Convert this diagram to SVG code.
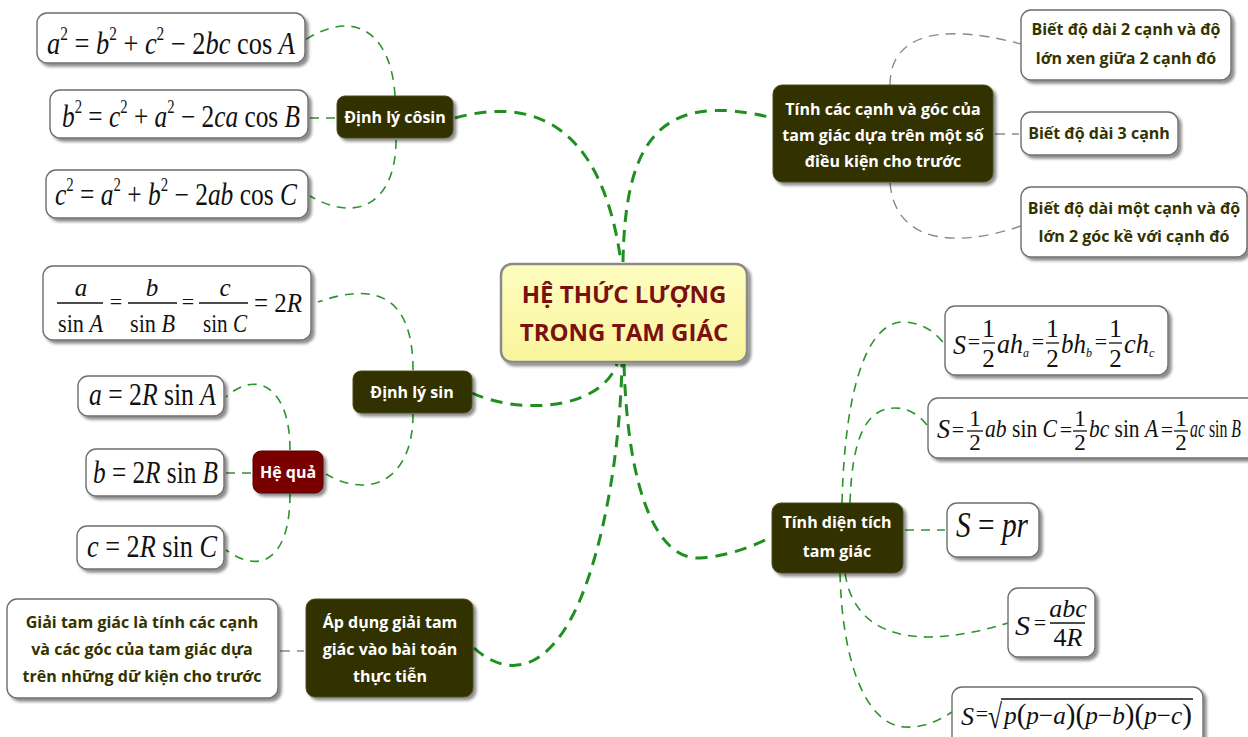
<svg xmlns="http://www.w3.org/2000/svg" width="1248" height="737" viewBox="0 0 1248 737">
<defs>
<filter id="sh" x="-10%" y="-10%" width="125%" height="140%">
<feDropShadow dx="3" dy="3" stdDeviation="1.8" flood-color="#000" flood-opacity="0.45"/>
</filter>
<linearGradient id="yg" x1="0" y1="0" x2="0" y2="1">
<stop offset="0" stop-color="#fefdc0"/>
<stop offset="1" stop-color="#f9f59c"/>
</linearGradient>
<style>
.box{fill:#fff;stroke:#6e6e6e;stroke-width:1.4;filter:url(#sh)}
.dark{fill:#333300;stroke:#4a4a20;stroke-width:1;filter:url(#sh)}
.red{fill:#7a0000;stroke:#5a0000;stroke-width:1;filter:url(#sh)}
.ctr{fill:url(#yg);stroke:#8a8a8a;stroke-width:2.5;filter:url(#sh)}
.nt{font-family:"Open Sans","Noto Sans","DejaVu Sans",sans-serif;font-weight:700;font-size:16px;fill:#fff;text-anchor:middle}
.bt{font-family:"Open Sans","Noto Sans","DejaVu Sans",sans-serif;font-weight:700;font-size:16px;fill:#333300;text-anchor:middle}
.ct{font-family:"Open Sans","Noto Sans","DejaVu Sans",sans-serif;font-weight:700;font-size:24px;fill:#7a1010;text-anchor:middle}
.f{font-family:"Liberation Serif","Times New Roman",serif;fill:#111}
.i{font-style:italic}
.m{text-anchor:middle}
.eq{font-family:"Liberation Serif","Times New Roman",serif;fill:#111;font-size:22px;text-anchor:middle}
.bar{stroke:#111;stroke-width:1.3}
.main{fill:none;stroke:#1f8f1f;stroke-width:3;stroke-dasharray:12 8}
.sub{fill:none;stroke:#2a962a;stroke-width:1.6;stroke-dasharray:9 7}
.gray{fill:none;stroke:#8a8a8a;stroke-width:1.4;stroke-dasharray:10 7}
</style>
</defs>

<g id="connectors">
<path class="main" d="M455,118 C520,100 600,110 621,262"/>
<path class="main" d="M623,262 C625,140 660,90 773,118"/>
<path class="main" d="M472,393 C520,415 600,410 617,364"/>
<path class="main" d="M474,648 C510,680 550,670 580,600 C605,540 620,450 622,364"/>
<path class="main" d="M624,364 C628,500 660,560 700,558 C730,556 755,545 772,537"/>
<path class="sub" d="M395,96 C392,40 360,5 305,40"/>
<path class="sub" d="M310,118 L337,118"/>
<path class="sub" d="M396,140 C396,200 360,225 310,196"/>
<path class="sub" d="M413,370 C413,300 380,280 318,302"/>
<path class="sub" d="M413,414 C413,480 370,500 326,474"/>
<path class="sub" d="M290,450 C290,385 255,370 226,397"/>
<path class="sub" d="M226,473 L252,473"/>
<path class="sub" d="M290,494 C290,560 260,575 226,550"/>
<path class="gray" d="M280,651 L304,651"/>
<path class="gray" d="M890,85 C890,40 930,20 1021,44"/>
<path class="gray" d="M995,134 L1019,134"/>
<path class="gray" d="M890,183 C895,240 950,250 1021,226"/>
<path class="sub" d="M842,503 C845,380 870,320 905,322 C925,323 938,335 945,345"/>
<path class="sub" d="M850,503 C852,440 865,408 895,408 C912,408 925,420 930,430"/>
<path class="sub" d="M905,530 L945,530"/>
<path class="sub" d="M845,573 C855,640 920,650 1008,623"/>
<path class="sub" d="M840,573 C842,660 865,725 905,727 C925,728 940,720 952,712"/>
</g>

<g id="center">
<rect class="ctr" x="501" y="264" width="246" height="98" rx="11"/>
<text class="ct" x="624" y="303">HỆ THỨC LƯỢNG</text>
<text class="ct" x="624" y="341">TRONG TAM GIÁC</text>
</g>

<g id="dinh-ly-cosin">
<rect class="dark" x="337" y="96" width="116" height="42" rx="8"/>
<text class="nt" x="395" y="123">Định lý côsin</text>
</g>

<g id="cos-a">
<rect class="box" x="37" y="13" width="268" height="50" rx="10"/>
<text class="f" font-size="31" x="47" y="54" textLength="248" lengthAdjust="spacingAndGlyphs"><tspan class="i">a</tspan><tspan font-size="18" dy="-14">2</tspan><tspan dy="14"> = </tspan><tspan class="i">b</tspan><tspan font-size="18" dy="-14">2</tspan><tspan dy="14"> + </tspan><tspan class="i">c</tspan><tspan font-size="18" dy="-14">2</tspan><tspan dy="14"> − 2</tspan><tspan class="i">bc</tspan><tspan> cos </tspan><tspan class="i">A</tspan></text>
</g>

<g id="cos-b">
<rect class="box" x="50" y="90" width="258" height="48" rx="10"/>
<text class="f" font-size="31" x="62" y="127" textLength="238" lengthAdjust="spacingAndGlyphs"><tspan class="i">b</tspan><tspan font-size="18" dy="-14">2</tspan><tspan dy="14"> = </tspan><tspan class="i">c</tspan><tspan font-size="18" dy="-14">2</tspan><tspan dy="14"> + </tspan><tspan class="i">a</tspan><tspan font-size="18" dy="-14">2</tspan><tspan dy="14"> − 2</tspan><tspan class="i">ca</tspan><tspan> cos </tspan><tspan class="i">B</tspan></text>
</g>

<g id="cos-c">
<rect class="box" x="46" y="170" width="262" height="48" rx="10"/>
<text class="f" font-size="31" x="55" y="205" textLength="242" lengthAdjust="spacingAndGlyphs"><tspan class="i">c</tspan><tspan font-size="18" dy="-14">2</tspan><tspan dy="14"> = </tspan><tspan class="i">a</tspan><tspan font-size="18" dy="-14">2</tspan><tspan dy="14"> + </tspan><tspan class="i">b</tspan><tspan font-size="18" dy="-14">2</tspan><tspan dy="14"> − 2</tspan><tspan class="i">ab</tspan><tspan> cos </tspan><tspan class="i">C</tspan></text>
</g>

<g id="dinh-ly-sin">
<rect class="dark" x="353" y="371" width="119" height="42" rx="8"/>
<text class="nt" x="412" y="398">Định lý sin</text>
</g>

<g id="sin-ratio">
<rect class="box" x="43" y="266" width="268" height="74" rx="10"/>
<text class="f i m" font-size="25" x="81" y="296">a</text>
<line class="bar" x1="57" y1="303" x2="103" y2="303"/>
<text class="f" font-size="25" x="58" y="332" textLength="45" lengthAdjust="spacingAndGlyphs">sin <tspan class="i">A</tspan></text>
<text class="eq" font-size="24" x="116" y="309">=</text>
<text class="f i m" font-size="25" x="152" y="296">b</text>
<line class="bar" x1="128" y1="303" x2="177" y2="303"/>
<text class="f" font-size="25" x="130" y="332" textLength="45" lengthAdjust="spacingAndGlyphs">sin <tspan class="i">B</tspan></text>
<text class="eq" font-size="24" x="188" y="309">=</text>
<text class="f i m" font-size="25" x="225" y="296">c</text>
<line class="bar" x1="199" y1="303" x2="248" y2="303"/>
<text class="f" font-size="25" x="203" y="332" textLength="44" lengthAdjust="spacingAndGlyphs">sin <tspan class="i">C</tspan></text>
<text class="f" font-size="27" x="254" y="312" textLength="48" lengthAdjust="spacingAndGlyphs">= 2<tspan class="i">R</tspan></text>
</g>

<g id="he-qua">
<rect class="red" x="253" y="451" width="70" height="42" rx="8"/>
<text class="nt" x="288" y="478">Hệ quả</text>
</g>

<g id="sin-a">
<rect class="box" x="78" y="376" width="146" height="40" rx="10"/>
<text class="f" font-size="32" x="89" y="405" textLength="127" lengthAdjust="spacingAndGlyphs"><tspan class="i">a</tspan> = 2<tspan class="i">R</tspan> sin <tspan class="i">A</tspan></text>
</g>

<g id="sin-b">
<rect class="box" x="86" y="449" width="138" height="47" rx="10"/>
<text class="f" font-size="32" x="93" y="483" textLength="125" lengthAdjust="spacingAndGlyphs"><tspan class="i">b</tspan> = 2<tspan class="i">R</tspan> sin <tspan class="i">B</tspan></text>
</g>

<g id="sin-c">
<rect class="box" x="77" y="526" width="147" height="43" rx="10"/>
<text class="f" font-size="32" x="87" y="557" textLength="130" lengthAdjust="spacingAndGlyphs"><tspan class="i">c</tspan> = 2<tspan class="i">R</tspan> sin <tspan class="i">C</tspan></text>
</g>

<g id="ap-dung">
<rect class="dark" x="306" y="599" width="167" height="98" rx="9"/>
<text class="nt" x="390" y="628">Áp dụng giải tam</text>
<text class="nt" x="390" y="655">giác vào bài toán</text>
<text class="nt" x="390" y="682">thực tiễn</text>
</g>

<g id="giai-tam-giac">
<rect class="box" x="7" y="599" width="271" height="99" rx="10"/>
<text class="bt" x="142" y="628">Giải tam giác là tính các cạnh</text>
<text class="bt" x="142" y="655">và các góc của tam giác dựa</text>
<text class="bt" x="142" y="682">trên những dữ kiện cho trước</text>
</g>

<g id="tinh-canh-goc">
<rect class="dark" x="773" y="85" width="220" height="97" rx="9"/>
<text class="nt" x="883" y="115">Tính các cạnh và góc của</text>
<text class="nt" x="883" y="141">tam giác dựa trên một số</text>
<text class="nt" x="883" y="167">điều kiện cho trước</text>
</g>

<g id="biet-2-canh">
<rect class="box" x="1021" y="10" width="210" height="70" rx="10"/>
<text class="bt" x="1126" y="35">Biết độ dài 2 cạnh và độ</text>
<text class="bt" x="1126" y="64">lớn xen giữa 2 cạnh đó</text>
</g>

<g id="biet-3-canh">
<rect class="box" x="1021" y="112" width="157" height="43" rx="10"/>
<text class="bt" x="1099" y="139">Biết độ dài 3 cạnh</text>
</g>

<g id="biet-1-canh">
<rect class="box" x="1021" y="187" width="226" height="70" rx="10"/>
<text class="bt" x="1134" y="214">Biết độ dài một cạnh và độ</text>
<text class="bt" x="1134" y="242">lớn 2 góc kề với cạnh đó</text>
</g>

<g id="tinh-dien-tich">
<rect class="dark" x="772" y="503" width="131" height="70" rx="9"/>
<text class="nt" x="837" y="528">Tính diện tích</text>
<text class="nt" x="837" y="557">tam giác</text>
</g>

<g id="s-height">
<rect class="box" x="945" y="306" width="223" height="69" rx="10"/>
<text class="f i" font-size="28" x="953" y="354" textLength="13" lengthAdjust="spacingAndGlyphs">S</text>
<text class="eq" x="974" y="349">=</text>
<text class="f m" font-size="25" x="988.5" y="337">1</text>
<line class="bar" x1="982" y1="343" x2="995" y2="343"/>
<text class="f m" font-size="25" x="988.5" y="367">2</text>
<text class="f i" font-size="27" x="997" y="353" textLength="26" lengthAdjust="spacingAndGlyphs">ah</text>
<text class="f i" font-size="12" x="1023" y="357">a</text>
<text class="eq" x="1038" y="349">=</text>
<text class="f m" font-size="25" x="1052.5" y="337">1</text>
<line class="bar" x1="1046" y1="343" x2="1059" y2="343"/>
<text class="f m" font-size="25" x="1052.5" y="367">2</text>
<text class="f i" font-size="27" x="1061" y="353" textLength="25" lengthAdjust="spacingAndGlyphs">bh</text>
<text class="f i" font-size="12" x="1086" y="357">b</text>
<text class="eq" x="1101" y="349">=</text>
<text class="f m" font-size="25" x="1115.5" y="337">1</text>
<line class="bar" x1="1109" y1="343" x2="1122" y2="343"/>
<text class="f m" font-size="25" x="1115.5" y="367">2</text>
<text class="f i" font-size="27" x="1124" y="353" textLength="25" lengthAdjust="spacingAndGlyphs">ch</text>
<text class="f i" font-size="12" x="1149" y="357">c</text>
</g>

<g id="s-sin">
<rect class="box" x="928" y="398" width="330" height="60" rx="10"/>
<text class="f i" font-size="27" x="937" y="438" textLength="13" lengthAdjust="spacingAndGlyphs">S</text>
<text class="eq" x="958" y="437">=</text>
<text class="f m" font-size="23" x="975" y="426">1</text>
<line class="bar" x1="967" y1="431" x2="983" y2="431"/>
<text class="f m" font-size="23" x="975" y="450">2</text>
<text class="f" font-size="26" x="985" y="437" textLength="72" lengthAdjust="spacingAndGlyphs"><tspan class="i">ab</tspan> sin <tspan class="i">C</tspan></text>
<text class="eq" x="1066" y="437">=</text>
<text class="f m" font-size="23" x="1080" y="426">1</text>
<line class="bar" x1="1073" y1="431" x2="1087" y2="431"/>
<text class="f m" font-size="23" x="1080" y="450">2</text>
<text class="f" font-size="26" x="1089" y="437" textLength="69" lengthAdjust="spacingAndGlyphs"><tspan class="i">bc</tspan> sin <tspan class="i">A</tspan></text>
<text class="eq" x="1167" y="437">=</text>
<text class="f m" font-size="23" x="1181" y="426">1</text>
<line class="bar" x1="1174" y1="431" x2="1188" y2="431"/>
<text class="f m" font-size="23" x="1181" y="450">2</text>
<text class="f" font-size="26" x="1190" y="437" textLength="51" lengthAdjust="spacingAndGlyphs"><tspan class="i">ac</tspan> sin <tspan class="i">B</tspan></text>
</g>

<g id="s-pr">
<rect class="box" x="947" y="503" width="92" height="54" rx="10"/>
<text class="f" font-size="36" x="956" y="537" textLength="72" lengthAdjust="spacingAndGlyphs"><tspan class="i">S</tspan> = <tspan class="i">pr</tspan></text>
</g>

<g id="s-abc">
<rect class="box" x="1008" y="588" width="87" height="69" rx="10"/>
<text class="f i" font-size="28" x="1015" y="635" textLength="15" lengthAdjust="spacingAndGlyphs">S</text>
<text class="eq" font-size="24" x="1040" y="630">=</text>
<text class="f i m" font-size="26" x="1068" y="617">abc</text>
<line class="bar" x1="1050" y1="623" x2="1085" y2="623"/>
<text class="f m" font-size="26" x="1068" y="646">4<tspan class="i">R</tspan></text>
</g>

<g id="s-heron">
<rect class="box" x="952" y="687" width="251" height="62" rx="10"/>
<text class="f i" font-size="26" x="961" y="725" textLength="13" lengthAdjust="spacingAndGlyphs">S</text>
<text class="eq" x="982" y="721">=</text>
<text class="f" font-size="34" x="988" y="728" textLength="14" lengthAdjust="spacingAndGlyphs">√</text>
<line class="bar" x1="1001" y1="699" x2="1193" y2="699"/>
<text class="f" font-size="26" x="1004" y="724" textLength="188" lengthAdjust="spacingAndGlyphs"><tspan class="i">p</tspan><tspan font-size="30">(</tspan><tspan class="i">p</tspan>−<tspan class="i">a</tspan><tspan font-size="30">)(</tspan><tspan class="i">p</tspan>−<tspan class="i">b</tspan><tspan font-size="30">)(</tspan><tspan class="i">p</tspan>−<tspan class="i">c</tspan><tspan font-size="30">)</tspan></text>
</g>
</svg>
